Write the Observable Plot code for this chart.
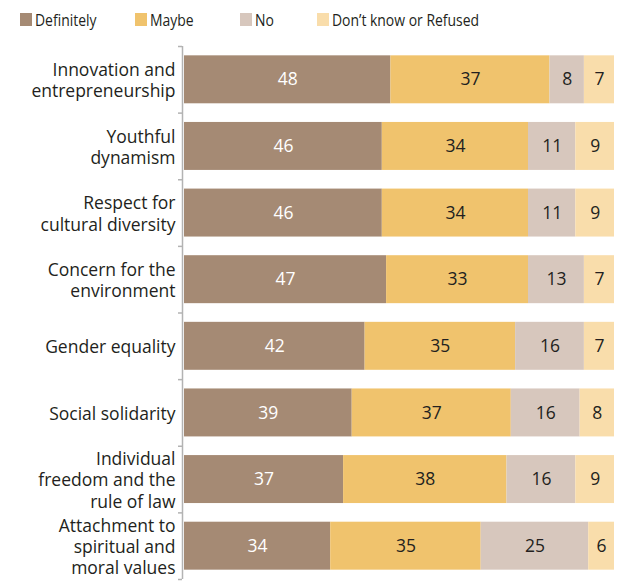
<!DOCTYPE html>
<html><head><meta charset="utf-8">
<script src="https://cdn.jsdelivr.net/npm/d3@7"></script>
<script src="https://cdn.jsdelivr.net/npm/@observablehq/plot@0.6"></script>
<style>
body{margin:0;background:#fff;font-family:"Open Sans",sans-serif;}
#legend{position:relative;height:40px;font-family:"Open Sans",sans-serif;font-size:17px;color:#231f20;}
.item{position:absolute;top:8px;display:flex;align-items:center;white-space:nowrap;}
.sw{width:12px;height:13px;margin-right:3px;flex:none;}
.lt{display:inline-block;transform:scaleX(0.82);transform-origin:left center;}
</style></head><body>
<div id="legend"></div><div id="chart"></div>
<script>
const categories = [
  "Innovation and\nentrepreneurship",
  "Youthful\ndynamism",
  "Respect for\ncultural diversity",
  "Concern for the\nenvironment",
  "Gender equality",
  "Social solidarity",
  "Individual\nfreedom and the\nrule of law",
  "Attachment to\nspiritual and\nmoral values"
];
const definitely = [48, 46, 46, 47, 42, 39, 37, 34];
const maybe      = [37, 34, 34, 33, 35, 37, 38, 35];
const no         = [ 8, 11, 11, 13, 16, 16, 16, 25];
const dontKnow   = [ 7,  9,  9,  7,  7,  8,  9,  6];
const seriesNames = ["Definitely", "Maybe", "No", "Don’t know or Refused"];
const colors = ["#a58a74", "#f0c36d", "#d7c7bd", "#f9ddab"];
const legendLeft = [20, 135, 240, 317];

const seriesValues = [definitely, maybe, no, dontKnow];
const rows = [];
categories.forEach((c, i) => {
  let acc = 0;
  seriesValues.forEach((vals, s) => {
    rows.push({i, category: c, series: seriesNames[s], value: vals[i], x1: acc, x2: acc + vals[i]});
    acc += vals[i];
  });
});
const boundaries = d3.range(categories.length + 1).map(k => k - 0.5);

const legend = document.getElementById("legend");
seriesNames.forEach((name, s) => {
  const it = document.createElement("div");
  it.className = "item";
  it.style.left = legendLeft[s] + "px";
  it.innerHTML = `<span class="sw" style="background:${colors[s]}"></span><span class="lt">${name}</span>`;
  legend.appendChild(it);
});

const chart = Plot.plot({
  width: 635, height: 541,
  marginTop: 6, marginBottom: 2, marginLeft: 182, marginRight: 21,
  style: {fontFamily: "'Open Sans', sans-serif", fontSize: "17.5px", color: "#231f20", background: "#fff"},
  x: {domain: [0, 100], insetLeft: 2, axis: null},
  y: {domain: [-0.5, categories.length - 0.5], reverse: true},
  color: {domain: seriesNames, range: colors},
  marks: [
    Plot.rectX(rows, {x1: "x1", x2: "x2", y1: d => d.i - 0.36, y2: d => d.i + 0.36, fill: "series"}),
    Plot.text(rows.filter(d => d.series === seriesNames[0]), {x: d => (d.x1 + d.x2) / 2, y: "i", text: d => String(d.value), fill: "#fff", fontSize: 17.5}),
    Plot.text(rows.filter(d => d.series !== seriesNames[0]), {x: d => (d.x1 + d.x2) / 2, y: "i", text: d => String(d.value), fill: "#231f20", fontSize: 17.5}),
    Plot.text(categories, {x: 0, y: (d, i) => i, text: d => d, textAnchor: "end", dx: -9, lineHeight: 1.22, fontSize: 17.5, fill: "#231f20"}),
    Plot.ruleX([0], {y1: -0.5, y2: categories.length - 0.5, dx: -2, stroke: "#b3b3b3", strokeWidth: 1.5}),
    Plot.axisY({ticks: boundaries, tickFormat: () => "", tickSize: 4, label: null, stroke: "#b3b3b3", strokeWidth: 1.5})
  ]
});
document.getElementById("chart").appendChild(chart);
</script>
</body></html>
